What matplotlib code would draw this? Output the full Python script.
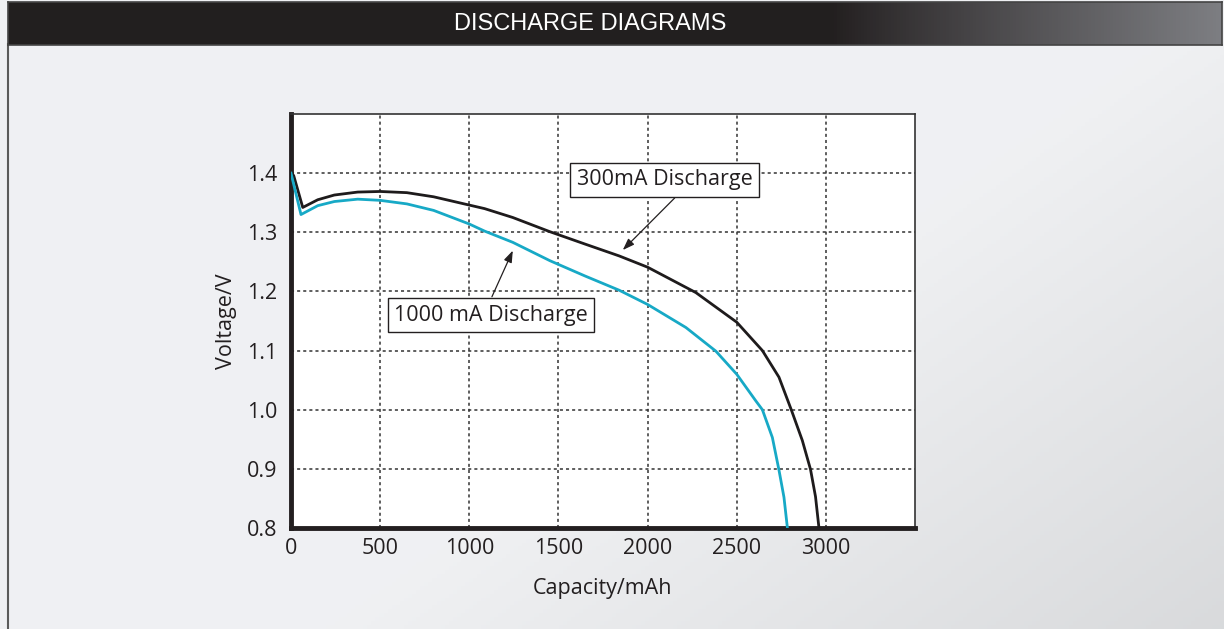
import numpy as np
import matplotlib
matplotlib.use("Agg")
from matplotlib import pyplot as plt

plt.rcParams['font.family'] = ['Open Sans', 'DejaVu Sans']

# discharge curves
cap_300 = [0, 15, 66, 150, 243, 374, 500, 650, 800, 1000, 1086, 1244, 1452, 1650,
           1841, 2000, 2271, 2500, 2644, 2737, 2806, 2868, 2914, 2942, 2961]
volt_300 = [1.400, 1.396, 1.342, 1.355, 1.363, 1.368, 1.369, 1.367, 1.360, 1.346,
            1.340, 1.325, 1.301, 1.280, 1.260, 1.241, 1.198, 1.148, 1.100, 1.055,
            1.000, 0.948, 0.899, 0.853, 0.801]

cap_1000 = [0, 56, 150, 243, 374, 500, 650, 800, 1000, 1086, 1244, 1452, 1650,
            1841, 2000, 2215, 2383, 2500, 2607, 2644, 2700, 2737, 2765, 2784]
volt_1000 = [1.400, 1.330, 1.345, 1.352, 1.356, 1.354, 1.348, 1.337, 1.314, 1.302,
             1.283, 1.252, 1.226, 1.202, 1.178, 1.139, 1.099, 1.060, 1.015, 1.000,
             0.953, 0.898, 0.852, 0.801]

x_ticks = [0, 500, 1000, 1500, 2000, 2500, 3000]
y_ticks = [0.8, 0.9, 1.0, 1.1, 1.2, 1.3, 1.4]

W, H = 1224, 629
fig = plt.figure(figsize=(W / 100, H / 100), dpi=100)

# background gradient (light top-left, greyer bottom-right)
bg = fig.add_axes([0, 0, 1, 1], zorder=-10)
gx, gy = np.meshgrid(np.linspace(0, 1, 300), np.linspace(0, 1, 160))
t = np.clip((gx * 0.75 + gy * 0.55 - 0.75) / 0.55, 0, 1)
c0 = np.array([0.941, 0.945, 0.953])
c1 = np.array([0.85, 0.855, 0.863])
img = c0 + (c1 - c0) * t[..., None]
bg.imshow(img, extent=[0, 1, 0, 1], aspect='auto', origin='upper')
bg.set_xlim(0, 1)
bg.set_ylim(0, 1)
bg.axis('off')
# left frame line
bg.plot([8 / W, 8 / W], [0, 1 - 44 / H], color='#5a5a5a', lw=1.5)

# header bar
hd = fig.add_axes([8 / W, 1 - 45 / H, (W - 10) / W, 43 / H], zorder=-5)
hx = np.linspace(0, 1, 400)
ht = np.clip((hx - 0.68) / 0.32, 0, 1) ** 0.9
h0 = np.array([0.137, 0.122, 0.125])
h1 = np.array([0.49, 0.494, 0.51])
himg = (h0 + (h1 - h0) * ht[:, None])[None, :, :]
hd.imshow(himg, extent=[0, 1, 0, 1], aspect='auto')
hd.set_xlim(0, 1)
hd.set_ylim(0, 1)
hd.set_xticks([])
hd.set_yticks([])
for s in hd.spines.values():
    s.set_color('#444444')
    s.set_linewidth(1.2)
fig.text(590 / W, 1 - 24 / H, 'DISCHARGE DIAGRAMS', color='white',
         ha='center', va='center', fontsize=17,
         family=['Liberation Sans', 'DejaVu Sans'])

# main chart
ax = fig.add_axes([291 / W, 1 - 528 / H, 624 / W, 414 / H])
ax.set_facecolor('white')
ax.plot(cap_300, volt_300, color='#1e1b1c', lw=2.0, zorder=3)
ax.plot(cap_1000, volt_1000, color='#17a9c6', lw=2.0, zorder=3)

ax.set_xlim(0, 3500)
ax.set_ylim(0.8, 1.5)
ax.set_xticks(x_ticks)
ax.set_yticks(y_ticks)
ax.set_yticklabels([f'{v:.1f}' for v in y_ticks])
ax.tick_params(length=0, labelsize=15.5, colors='#231f20')
ax.tick_params(axis='x', pad=7)
ax.tick_params(axis='y', pad=10)
ax.grid(True, linestyle=(0, (2, 2)), color='#333333', lw=1.1)

ax.spines['left'].set_linewidth(3.5)
ax.spines['bottom'].set_linewidth(3.5)
ax.spines['left'].set_color('#231f20')
ax.spines['bottom'].set_color('#231f20')
for s in ('top', 'right'):
    ax.spines[s].set_linewidth(1.2)
    ax.spines[s].set_color('#333333')

ax.set_xlabel('Capacity/mAh', fontsize=15.5, color='#231f20', labelpad=14)
ax.set_ylabel('Voltage/V', fontsize=15.5, color='#231f20', labelpad=7)

box = dict(boxstyle='square,pad=0.3', fc='white', ec='#231f20', lw=1.0)
arrow = dict(arrowstyle='-|>,head_length=0.7,head_width=0.25', color='#231f20', lw=0.9,
             shrinkA=0, shrinkB=0)

ax.text(2096, 1.389, '300mA Discharge', fontsize=15.5, ha='center', va='center',
        bbox=box, zorder=5, color='#231f20')
ax.annotate('', xy=(1861, 1.270), xytext=(2152, 1.358), arrowprops=arrow, zorder=5)

ax.text(1121, 1.160, '1000 mA Discharge', fontsize=15.5, ha='center', va='center',
        bbox=box, zorder=5, color='#231f20')
ax.annotate('', xy=(1244, 1.269), xytext=(1127, 1.191), arrowprops=arrow, zorder=5)

fig.savefig('out.png', dpi=100)
